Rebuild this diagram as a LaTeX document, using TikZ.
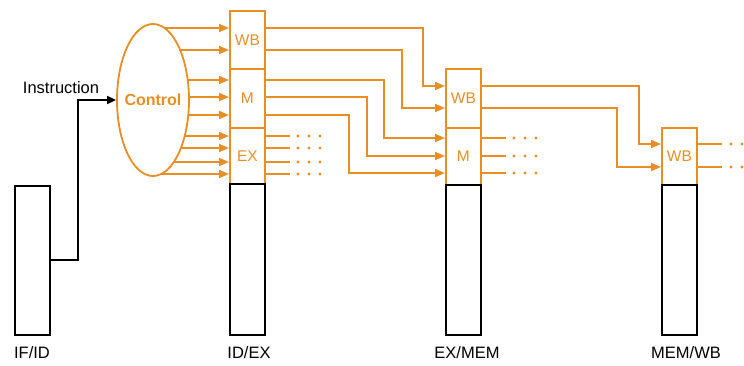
\documentclass[tikz,border=0pt]{standalone}
\usepackage{fontspec}
\setmainfont{Liberation Sans}
\usetikzlibrary{arrows.meta,shapes.geometric}
\definecolor{org}{RGB}{234,142,36}
\tikzset{
  sig/.style={draw=org,line width=1.8pt,-{Triangle[length=10pt,width=8pt]}},
  wire/.style={draw=org,line width=1.8pt},
  obox/.style={draw=org,line width=1.8pt,minimum width=35pt,inner sep=0pt,anchor=north west,text=org,font=\fontsize{15.5}{17}\selectfont},
  kbox/.style={draw=black,line width=2pt,minimum width=35pt,inner sep=0pt,anchor=north west},
  lbl/.style={font=\fontsize{16.5}{19}\selectfont,text=black},
  dot/.style={fill=org}
}
\begin{document}
\begin{tikzpicture}[x=1pt,y=-1pt]
\useasboundingbox (0,0) rectangle (744,365);
% IF/ID
\node[kbox,minimum height=149pt] (ifid) at (14,185) {};
\node[lbl] (lifid) at (32,353) {IF/ID};
% Control
\node[draw=org,line width=1.8pt,ellipse,minimum width=72pt,minimum height=152pt,inner sep=0pt] (ctrl) at (153,100) {};
\node[text=org,font=\fontsize{16}{18}\selectfont\bfseries,inner sep=0pt] (ctrltxt) at (ctrl.center) {Control};
\node[lbl] (linst) at (61,88) {Instruction};
\coordinate (ifout) at (49,260);
\draw[line width=1.6pt,-{Triangle[length=9pt,width=8pt]}] (ifout) -- (78,260) |- (ctrl.west);
% ID/EX
\node[obox,minimum height=58pt] (idexWB) at (229,10) {WB};
\node[obox,minimum height=59pt] (idexM) at (229,68) {M};
\node[obox,minimum height=56pt] (idexEX) at (229,127) {EX};
\node[kbox,minimum height=151pt] (idexK) at (229,183) {};
\node[lbl] (lidex) at (249,353) {ID/EX};
% EX/MEM
\node[obox,minimum height=59pt] (exmemWB) at (445,68) {WB};
\node[obox,minimum height=57pt] (exmemM) at (445,127) {M};
\node[kbox,minimum height=150pt] (exmemK) at (445,184) {};
\node[lbl] (lexmem) at (467,353) {EX/MEM};
% MEM/WB
\node[obox,minimum height=57pt] (memwbWB) at (661,127) {WB};
\node[kbox,minimum height=150pt] (memwbK) at (661,184) {};
\node[lbl] (lmemwb) at (686,353) {MEM/WB};
% control outputs
\coordinate (c1) at (164.5,28);
\coordinate (c2) at (180.1,50);
\coordinate (c3) at (187.7,80);
\coordinate (c4) at (189,97);
\coordinate (c5) at (188.3,115);
\coordinate (c6) at (184.7,136);
\coordinate (c7) at (180.9,148);
\coordinate (c8) at (173.8,162);
\coordinate (c9) at (161.2,174);
\foreach \c in {c1,c2}{\draw[sig] (\c) -- (\c -| idexWB.west);}
\foreach \c in {c3,c4,c5}{\draw[sig] (\c) -- (\c -| idexM.west);}
\foreach \c in {c6,c7,c8,c9}{\draw[sig] (\c) -- (\c -| idexEX.west);}
% ID/EX -> EX/MEM
\draw[sig] (idexWB.east |- c1) -- (423,28) |- (exmemWB.west |- 0,86);
\draw[sig] (idexWB.east |- c2) -- (402,50) |- (exmemWB.west |- 0,108);
\draw[sig] (idexM.east |- c3) -- (384,80) |- (exmemM.west |- 0,138);
\draw[sig] (idexM.east |- c4) -- (367,97) |- (exmemM.west |- 0,156);
\draw[sig] (idexM.east |- c5) -- (349,115) |- (exmemM.west |- 0,173);
% EX outputs
\foreach \y in {136,148,162,174}{
  \draw[wire] (idexEX.east |- 0,\y) -- (290,\y);
  \foreach \x in {298,309,320}{\fill[dot] (\x,\y) circle (1.6pt);}
}
% EX/MEM -> MEM/WB
\draw[sig] (exmemWB.east |- 0,86) -- (639,86) |- (memwbWB.west |- 0,144);
\draw[sig] (exmemWB.east |- 0,108) -- (617,108) |- (memwbWB.west |- 0,167);
\foreach \y in {138,156,173}{
  \draw[wire] (exmemM.east |- 0,\y) -- (506,\y);
  \foreach \x in {514,525,536}{\fill[dot] (\x,\y) circle (1.6pt);}
}
\foreach \y in {144,167}{
  \draw[wire] (memwbWB.east |- 0,\y) -- (722,\y);
  \foreach \x in {731,742}{\fill[dot] (\x,\y) circle (1.6pt);}
}
\end{tikzpicture}
\end{document}
